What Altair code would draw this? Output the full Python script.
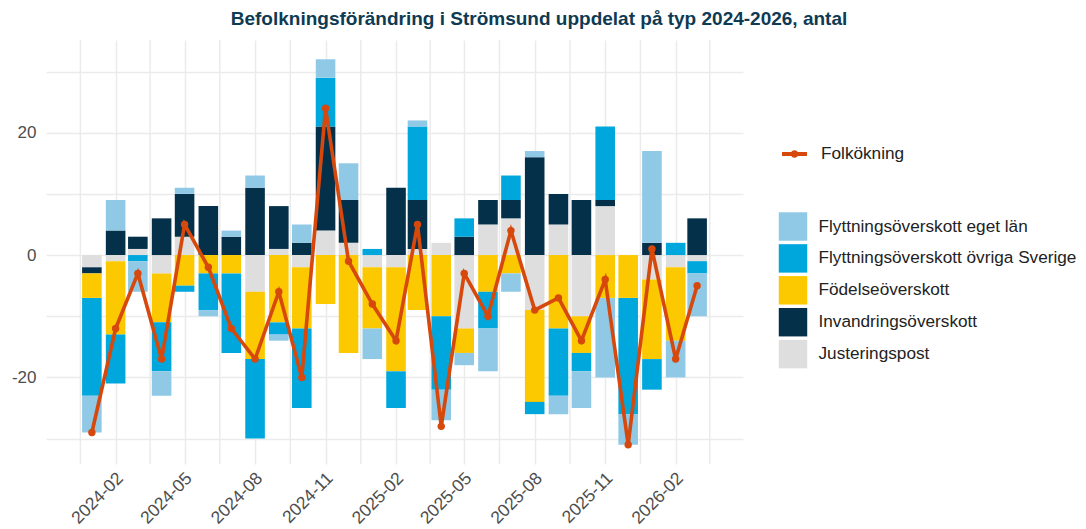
import altair as alt
import pandas as pd

# ---------------- data ----------------
months = ["2024-01", "2024-02", "2024-03", "2024-04", "2024-05", "2024-06",
          "2024-07", "2024-08", "2024-09", "2024-10", "2024-11", "2024-12",
          "2025-01", "2025-02", "2025-03", "2025-04", "2025-05", "2025-06",
          "2025-07", "2025-08", "2025-09", "2025-10", "2025-11", "2025-12",
          "2026-01", "2026-02", "2026-03"]

justeringspost = [-2, -1, 1, -3, 3, 0, 0, -6, 1, -2, 4, 2, -2, -2, 1, 2, -12, 5,
                  6, -9, 5, -10, 8, 0, -4, -2, -1]
invandringsoverskott = [-1, 4, 2, 6, 7, 8, 3, 11, 7, 2, 17, 7, 0, 11, 8, 0, 3, 4,
                        3, 16, 5, 9, 1, 0, 2, 0, 6]
fodelseoverskott = [-4, -12, 0, -8, -5, -3, -3, -11, -11, -10, -8, -16, -10, -17, -9,
                    -10, -4, -6, -3, -15, -12, -6, -7, -7, -13, -12, 0]
flytt_ovriga = [-16, -8, -1, -8, -1, -6, -13, -13, -2, -13, 8, 0, 1, -6, 12, -12, 3,
                -6, 4, -2, -11, -3, 12, -19, -5, 2, -2]
flytt_eget = [-6, 5, -5, -4, 1, -1, 1, 2, -1, 3, 3, 6, -5, 0, 1, -5, -2, -7, -3, 1,
              -3, -6, -13, -5, 15, -6, -7]
folkokning = [-29, -12, -3, -17, 5, -2, -12, -17, -6, -20, 24, -1, -8, -14, 5, -28,
              -3, -10, 4, -9, -7, -14, -4, -31, 1, -17, -5]

legend_order = ["Flyttningsöverskott eget län", "Flyttningsöverskott övriga Sverige",
                "Födelseöverskott", "Invandringsöverskott", "Justeringspost"]
fill_colors = ["#8fc9e6", "#00a7dd", "#fcc800", "#04304a", "#dedede"]
line_color = "#d6480b"

title_text = "Befolkningsförändring i Strömsund uppdelat på typ 2024-2026, antal"

# ---------------- tables ----------------
stack_series = [("Justeringspost", justeringspost),
                ("Invandringsöverskott", invandringsoverskott),
                ("Födelseöverskott", fodelseoverskott),
                ("Flyttningsöverskott övriga Sverige", flytt_ovriga),
                ("Flyttningsöverskott eget län", flytt_eget)]
rows = []
for order_i, (name, vals) in enumerate(stack_series):
    for m, v in zip(months, vals):
        if v != 0:
            rows.append({"datum": m + "-01", "typ": name, "antal": v, "ordning": order_i})
bars_df = pd.DataFrame(rows)
line_df = pd.DataFrame({"datum": [m + "-01" for m in months],
                        "antal": folkokning,
                        "serie": "Folkökning"})

# ---------------- layout ----------------
W, H = 697, 424
TOP = 32
dates = pd.to_datetime([m + "-01" for m in months])
res = pd.Series(dates).diff().min()
lo = dates[0] - 0.45 * res
hi = dates[-1] + 0.45 * res
pad = 0.05 * (hi - lo)
dom_lo, dom_hi = lo - pad, hi + pad
to_ms = lambda t: int(pd.Timestamp(t).value // 10**6)
px_per_day = W / ((dom_hi - dom_lo) / pd.Timedelta(days=1))
bar_px = 0.9 * (res / pd.Timedelta(days=1)) * px_per_day

majors = pd.date_range("2023-11-01", "2026-08-01", freq="3MS")
minors = [majors[i] + (majors[i + 1] - majors[i]) / 2 for i in range(len(majors) - 1)]
major_vals = [to_ms(t) for t in majors if dom_lo <= t <= dom_hi]
minor_df = pd.DataFrame({"datum": [t.strftime("%Y-%m-%dT%H:%M:%S") for t in minors
                                   if dom_lo <= t <= dom_hi]})

xscale = alt.Scale(type="utc", domain=[to_ms(dom_lo), to_ms(dom_hi)], nice=False)
yscale = alt.Scale(domain=[-34.15, 35.15], nice=False, zero=False)

FONT = "Liberation Sans"
GRID = "#ebebeb"
xaxis = alt.Axis(values=major_vals, format="%Y-%m", title=None, grid=True, gridColor=GRID,
                 gridWidth=1.5, ticks=False, domain=False, labelAngle=-45,
                 labelAlign="right", labelBaseline="top", labelFontSize=17.5,
                 labelColor="#4d4d4d", labelFont=FONT, labelPadding=5, labelOffset=-2,
                 labelOverlap=False, labelBound=False, labelFlush=False)
yaxis = alt.Axis(values=[-30, -20, -10, 0, 10, 20, 30], title=None, grid=True,
                 gridColor=GRID, gridWidth=1.5, ticks=False, domain=False,
                 labelFontSize=17, labelColor="#4d4d4d", labelFont=FONT, labelPadding=10,
                 labelOverlap=False,
                 labelExpr="datum.value % 20 == 0 ? '' + datum.value : ''")

minor_grid = alt.Chart(minor_df).mark_rule(color=GRID, strokeWidth=1.5).encode(
    x=alt.X("datum:T", scale=xscale, axis=xaxis),
    y=alt.value(0), y2=alt.value(H),
)

bars = alt.Chart(bars_df).mark_bar(size=bar_px).encode(
    x=alt.X("datum:T", scale=xscale, axis=xaxis),
    y=alt.Y("antal:Q", stack="zero", scale=yscale, axis=yaxis),
    fill=alt.Fill("typ:N", scale=alt.Scale(domain=legend_order, range=fill_colors),
                  legend=alt.Legend(title=None, orient="none", legendX=732.5,
                                    legendY=212 - 8 - TOP,
                                    symbolType="square", symbolSize=810, symbolStrokeWidth=0,
                                    labelFontSize=17.2, labelColor="#222222", labelFont=FONT,
                                    labelOffset=11, rowPadding=2.9, padding=0,
                                    labelLimit=500)),
    order=alt.Order("ordning:Q", sort="ascending"),
)

legend_path = ("M-1,0L1,0M-0.14,0A0.14,0.14 0 1,1 0.14,0A0.14,0.14 0 1,1 -0.14,0")
line = alt.Chart(line_df).mark_line(strokeWidth=3.6).encode(
    x=alt.X("datum:T", scale=xscale, axis=xaxis),
    y=alt.Y("antal:Q", scale=yscale, axis=yaxis),
    stroke=alt.Stroke("serie:N", scale=alt.Scale(domain=["Folkökning"], range=[line_color]),
                      legend=alt.Legend(title=None, orient="none", legendX=734,
                                        legendY=139.5 - 8 - TOP,
                                        symbolType=legend_path, symbolSize=625,
                                        symbolStrokeWidth=4, labelFontSize=17.2,
                                        labelColor="#222222", labelFont=FONT,
                                        labelOffset=12, padding=0, labelLimit=500)),
)
points = alt.Chart(line_df).mark_circle(size=55, opacity=1, color=line_color).encode(
    x=alt.X("datum:T", scale=xscale, axis=xaxis),
    y=alt.Y("antal:Q", scale=yscale, axis=yaxis),
)

chart = alt.layer(minor_grid, bars, line, points).properties(
    width=W, height=H,
    title=alt.TitleParams(title_text, fontSize=19, font=FONT, fontWeight="bold",
                          color="#0e3a53", anchor="middle", frame="group", dx=144.5,
                          dy=20, offset=15 - (32 - TOP), baseline="alphabetic"),
    padding={"left": 38, "top": TOP, "right": 335, "bottom": 521 - TOP - H},
    autosize="none",
    background="white",
).configure_view(stroke=None)

chart.save("out.html", embed_options={"renderer": "svg", "actions": False})
